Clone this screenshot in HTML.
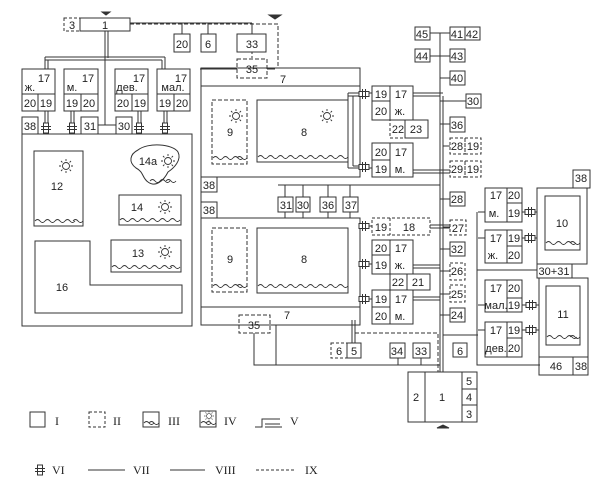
<!DOCTYPE html>
<html><head><meta charset="utf-8"><style>
html,body{margin:0;padding:0;background:#fff;}
svg{display:block;}
text{font-family:"Liberation Sans",sans-serif;font-size:11px;fill:#222;}
.s{font-family:"Liberation Serif",serif;font-size:12px;}
</style></head><body>
<svg width="605" height="498" viewBox="0 0 605 498" xmlns="http://www.w3.org/2000/svg">
<defs>
<g id="sun" stroke="#333" stroke-width="0.9" fill="none">
<circle r="3.5"/>
<path d="M0,-7V-5M0,5V7M-7,0H-5M5,0H7M-5,-5L-3.6,-3.6M5,5L3.6,3.6M-5,5L-3.6,3.6M5,-5L3.6,-3.6"/>
</g>
<path id="wv" d="M0,0q2.5,-3 5,0t5,0" fill="none" stroke="#333" stroke-width="0.9"/>
<g id="valve" stroke="#333" stroke-width="1" fill="none">
<rect x="-2.5" y="-5" width="5" height="10" fill="#fff"/><path d="M-5,-1.5H5M-5,1.5H5"/>
</g>
<g id="valveh" stroke="#333" stroke-width="1" fill="none">
<rect x="-5" y="-2.5" width="10" height="5" fill="#fff"/><path d="M-1.5,-5V5M1.5,-5V5"/>
</g>
</defs>
<g stroke="#333" stroke-width="1" fill="none">
<path d="M102,12h8l-4,3z" fill="#333"/>
<path d="M269,15h12l-6,4z" fill="#333"/>
<rect x="64" y="18" width="16" height="13" stroke-dasharray="3,2"/>
<rect x="80" y="18" width="50" height="13"/>
<path d="M130,24H278V68" stroke-dasharray="4,2"/>
<path d="M130,23H252M182,23V34M208,23V34M252,23V34" />
<rect x="174" y="34" width="16" height="18"/>
<rect x="201" y="34" width="15" height="18"/>
<rect x="237" y="34" width="29" height="18"/>
<path d="M252,52V59" stroke-dasharray="2,2"/>
<rect x="237" y="59" width="30" height="19" stroke-dasharray="4,2"/>
<path d="M267,69H275M200,69H237"/>
<path d="M105,31V125M108,31V58M45,57H165M45,60H162M45,57V69M48,60V69M165,57V69M162,60V69M98,125H116"/>
<rect x="22" y="69" width="33" height="25"/><rect x="22" y="94" width="16" height="17"/><rect x="38" y="94" width="17" height="17"/>
<rect x="64" y="69" width="34" height="25"/><rect x="64" y="94" width="17" height="17"/><rect x="81" y="94" width="17" height="17"/>
<rect x="115" y="69" width="33" height="25"/><rect x="115" y="94" width="17" height="17"/><rect x="132" y="94" width="16" height="17"/>
<rect x="157" y="69" width="33" height="25"/><rect x="157" y="94" width="17" height="17"/><rect x="174" y="94" width="16" height="17"/>
<path d="M45,111V134M48,111V134M71,111V134M74,111V134M138,111V134M141,111V134M164,111V134M167,111V134"/>
<rect x="22" y="117" width="16" height="17"/><rect x="81" y="117" width="17" height="17"/><rect x="116" y="117" width="16" height="17"/>
<rect x="22" y="134" width="170" height="192"/>
<rect x="34" y="151" width="49" height="75"/>
<path d="M138,150c10,-8 35,-6 40,2c4,8 -4,16 -10,20c-4,8 -12,16 -20,10c-6,-4 -4,-10 -12,-14c-8,-6 -6,-14 2,-18z"/>
<rect x="119" y="195" width="62" height="30"/>
<rect x="111" y="240" width="70" height="32"/>
<path d="M35,241H90V285H182V313H35Z"/>
<rect x="201" y="68" width="159" height="109"/>
<path d="M201,86H360"/>
<rect x="212" y="100" width="35" height="64" stroke-dasharray="4,2"/>
<rect x="257" y="100" width="91" height="62"/>
<path d="M348,93H372M348,96H369M348,93V168M353,96V166M348,168H372M353,166H369" />
<rect x="201" y="177" width="16" height="15"/>
<rect x="201" y="202" width="16" height="16"/>
<path d="M201,177V218M278,185H440M285,185V197M303,185V197M328,185V197M350,185V197"/>
<rect x="278" y="197" width="15" height="15"/><rect x="296" y="197" width="14" height="15"/><rect x="320" y="197" width="16" height="15"/><rect x="343" y="197" width="15" height="15"/>
<path d="M285,212V218M303,212V218M328,212V218M350,212V218"/>
<rect x="201" y="218" width="159" height="107"/>
<path d="M201,307H360"/>
<rect x="212" y="228" width="35" height="64" stroke-dasharray="4,2"/>
<rect x="257" y="228" width="91" height="65"/>
<path d="M360,226H372M360,264H372M360,299H372"/>
<rect x="372" y="86" width="18" height="15"/><rect x="390" y="86" width="23" height="34"/><rect x="372" y="101" width="18" height="19"/>
<rect x="390" y="120" width="15" height="18" stroke-dasharray="3,2"/><rect x="405" y="120" width="23" height="18"/>
<rect x="372" y="143" width="18" height="17"/><rect x="390" y="143" width="23" height="34"/><rect x="372" y="160" width="18" height="17"/>
<path d="M413,93H443M413,96H440M413,170H450M413,173H450"/>
<path d="M440,33V372M443,96V372M430,33H450M430,56H450M440,78H450M440,101H466M440,124H450M443,146H450M440,199H450M443,227H450M440,249H450M440,271H450M440,294H450M440,315H450"/>
<rect x="415" y="27" width="15" height="13"/><rect x="450" y="27" width="15" height="13"/><rect x="465" y="27" width="15" height="13"/>
<rect x="415" y="49" width="15" height="13"/><rect x="450" y="49" width="15" height="13"/>
<rect x="450" y="71" width="15" height="14"/><rect x="466" y="94" width="15" height="14"/><rect x="450" y="117" width="15" height="15"/>
<g stroke-dasharray="3,2"><rect x="450" y="138" width="15" height="16"/><rect x="465" y="138" width="16" height="16"/><rect x="450" y="161" width="15" height="16"/><rect x="465" y="161" width="16" height="16"/></g>
<rect x="450" y="192" width="15" height="14"/>
<rect x="450" y="220" width="16" height="15" stroke-dasharray="3,2"/>
<rect x="450" y="242" width="15" height="14"/>
<rect x="450" y="263" width="15" height="17" stroke-dasharray="3,2"/>
<rect x="450" y="285" width="15" height="17" stroke-dasharray="3,2"/>
<rect x="450" y="308" width="15" height="14"/>
<rect x="372" y="218" width="58" height="17" stroke-dasharray="3,2"/><path d="M390,218V235" stroke-dasharray="3,2"/>
<path d="M430,225H450M430,228H450"/>
<rect x="372" y="240" width="18" height="15"/><rect x="390" y="240" width="23" height="34"/><rect x="372" y="255" width="18" height="19"/>
<rect x="390" y="274" width="17" height="16"/><rect x="407" y="274" width="23" height="16"/>
<rect x="372" y="290" width="18" height="17"/><rect x="390" y="290" width="23" height="34"/><rect x="372" y="307" width="18" height="17"/>
<path d="M413,265H440M413,268H440M413,297H440M413,300H440"/>
<rect x="239" y="315" width="31" height="18" stroke-dasharray="4,2"/>
<path d="M201,325H239M270,325H360M254,333V365H440M276,325V365M352,320V343M355,320V343"/>
<path d="M355,333H438V372" stroke-dasharray="4,2"/>
<rect x="331" y="343" width="16" height="15" stroke-dasharray="3,2"/><rect x="347" y="343" width="14" height="15"/>
<rect x="390" y="343" width="15" height="15"/><rect x="413" y="343" width="17" height="15"/>
<path d="M398,358V365M421,358V365"/>
<rect x="453" y="343" width="14" height="14"/>
<rect x="408" y="372" width="54" height="50"/><path d="M425,372V422"/>
<rect x="462" y="372" width="15" height="17"/><rect x="462" y="389" width="15" height="16"/><rect x="462" y="405" width="15" height="17"/>
<path d="M437,428h12l-6,-3z" fill="#333"/>
<path d="M443,335H478M477,212V365H540M477,270H537M478,212H485M478,238H485M478,305H485M478,330H485"/>
<rect x="485" y="188" width="22" height="34"/><rect x="507" y="188" width="15" height="15"/><rect x="507" y="203" width="15" height="19"/>
<rect x="485" y="230" width="22" height="33"/><rect x="507" y="230" width="15" height="16"/><rect x="507" y="246" width="15" height="17"/>
<rect x="485" y="280" width="22" height="32"/><rect x="507" y="280" width="15" height="18"/><rect x="507" y="298" width="15" height="14"/>
<rect x="485" y="322" width="22" height="35"/><rect x="507" y="322" width="15" height="16"/><rect x="507" y="338" width="15" height="19"/>
<path d="M522,212H537M522,238H537M522,305H539M522,330H539"/>
<rect x="537" y="188" width="50" height="76"/><rect x="545" y="196" width="35" height="54"/>
<rect x="573" y="170" width="17" height="18"/>
<rect x="537" y="264" width="35" height="14"/>
<rect x="539" y="278" width="49" height="97"/><rect x="546" y="286" width="34" height="59"/>
<path d="M539,357H588M573,357V375"/>
<rect x="30" y="412" width="15" height="15"/>
<rect x="89" y="412" width="16" height="15" stroke-dasharray="3,2"/>
<rect x="143" y="412" width="16" height="15"/>
<rect x="200" y="411" width="16" height="16"/>
<path d="M255,427H262V419H280M265,427H282M265,424H280"/>
<path d="M88,470H125M170,470H205"/>
<path d="M256,470H295" stroke-dasharray="3,2"/>
</g>
<g>
<g transform="translate(35,221)"><use href="#wv"/><use href="#wv" x="10"/><use href="#wv" x="20"/><use href="#wv" x="30"/><use href="#wv" x="38"/></g>
<g transform="translate(120,220)"><use href="#wv"/><use href="#wv" x="10"/><use href="#wv" x="20"/><use href="#wv" x="30"/><use href="#wv" x="40"/><use href="#wv" x="50"/></g>
<g transform="translate(112,267)"><use href="#wv"/><use href="#wv" x="10"/><use href="#wv" x="20"/><use href="#wv" x="30"/><use href="#wv" x="40"/><use href="#wv" x="50"/><use href="#wv" x="58"/></g>
<g transform="translate(150,181)"><use href="#wv"/><use href="#wv" x="10"/><use href="#wv" x="16"/></g>
<g transform="translate(213,158)"><use href="#wv"/><use href="#wv" x="10"/><use href="#wv" x="20"/><use href="#wv" x="24"/></g>
<g transform="translate(258,157)"><use href="#wv"/><use href="#wv" x="10"/><use href="#wv" x="20"/><use href="#wv" x="30"/><use href="#wv" x="40"/><use href="#wv" x="50"/><use href="#wv" x="60"/><use href="#wv" x="70"/><use href="#wv" x="80"/></g>
<g transform="translate(213,286)"><use href="#wv"/><use href="#wv" x="10"/><use href="#wv" x="20"/><use href="#wv" x="24"/></g>
<g transform="translate(258,286)"><use href="#wv"/><use href="#wv" x="10"/><use href="#wv" x="20"/><use href="#wv" x="30"/><use href="#wv" x="40"/><use href="#wv" x="50"/><use href="#wv" x="60"/><use href="#wv" x="70"/><use href="#wv" x="80"/></g>
<g transform="translate(546,243)"><use href="#wv"/><use href="#wv" x="10"/><use href="#wv" x="20"/><use href="#wv" x="24"/></g>
<g transform="translate(547,337)"><use href="#wv"/><use href="#wv" x="10"/><use href="#wv" x="20"/><use href="#wv" x="23"/></g>
<g transform="translate(144,423)"><use href="#wv"/><use href="#wv" x="5"/></g>
<g transform="translate(201,423)"><use href="#wv"/><use href="#wv" x="5"/></g>
</g>
<use href="#sun" x="66" y="166"/><use href="#sun" x="168" y="161"/><use href="#sun" x="165" y="207"/><use href="#sun" x="165" y="252"/>
<use href="#sun" x="236" y="116"/><use href="#sun" x="327" y="116"/>
<g transform="translate(209,416) scale(0.7)"><use href="#sun"/></g>
<use href="#valve" x="46" y="128"/><use href="#valve" x="72" y="128"/><use href="#valve" x="139" y="128"/><use href="#valve" x="165" y="128"/>
<use href="#valveh" x="364" y="94"/><use href="#valveh" x="364" y="167"/><use href="#valveh" x="364" y="226"/><use href="#valveh" x="364" y="264"/><use href="#valveh" x="364" y="299"/>
<use href="#valveh" x="530" y="212"/><use href="#valveh" x="530" y="238"/><use href="#valveh" x="531" y="305"/><use href="#valveh" x="531" y="330"/>
<use href="#valve" x="40" y="470"/>
<g text-anchor="middle">
<text x="72" y="29">3</text><text x="105" y="29">1</text>
<text x="182" y="48">20</text><text x="208" y="48">6</text><text x="252" y="48">33</text><text x="252" y="73">35</text><text x="283" y="83">7</text>
<text x="44" y="82">17</text><text x="30" y="91">ж.</text><text x="30" y="107">20</text><text x="46" y="107">19</text>
<text x="88" y="82">17</text><text x="72" y="91">м.</text><text x="72" y="107">19</text><text x="89" y="107">20</text>
<text x="139" y="82">17</text><text x="127" y="91">дев.</text><text x="123" y="107">20</text><text x="140" y="107">19</text>
<text x="181" y="82">17</text><text x="173" y="91">мал.</text><text x="165" y="107">19</text><text x="182" y="107">20</text>
<text x="30" y="130">38</text><text x="90" y="130">31</text><text x="124" y="130">30</text>
<text x="57" y="190">12</text><text x="148" y="165">14a</text><text x="137" y="211">14</text><text x="138" y="257">13</text><text x="62" y="291">16</text>
<text x="230" y="136">9</text><text x="304" y="136">8</text><text x="230" y="263">9</text><text x="304" y="263">8</text>
<text x="209" y="189">38</text><text x="209" y="214">38</text>
<text x="286" y="209">31</text><text x="303" y="209">30</text><text x="328" y="209">36</text><text x="351" y="209">37</text>
<text x="381" y="98">19</text><text x="401" y="98">17</text><text x="381" y="115">20</text><text x="400" y="115">ж.</text>
<text x="398" y="133">22</text><text x="416" y="133">23</text>
<text x="381" y="156">20</text><text x="401" y="156">17</text><text x="381" y="173">19</text><text x="400" y="173">м.</text>
<text x="381" y="231">19</text><text x="409" y="231">18</text>
<text x="381" y="252">20</text><text x="401" y="252">17</text><text x="381" y="269">19</text><text x="400" y="269">ж.</text>
<text x="398" y="286">22</text><text x="418" y="286">21</text>
<text x="381" y="303">19</text><text x="401" y="303">17</text><text x="381" y="320">20</text><text x="400" y="320">м.</text>
<text x="287" y="319">7</text><text x="254" y="329">35</text>
<text x="339" y="355">6</text><text x="354" y="355">5</text><text x="397" y="355">34</text><text x="421" y="355">33</text><text x="460" y="355">6</text>
<text x="416" y="401">2</text><text x="442" y="401">1</text><text x="469" y="385">5</text><text x="469" y="401">4</text><text x="469" y="418">3</text>
<text x="422" y="38">45</text><text x="457" y="38">41</text><text x="472" y="38">42</text>
<text x="422" y="60">44</text><text x="457" y="60">43</text><text x="457" y="82">40</text><text x="473" y="105">30</text><text x="457" y="129">36</text>
<text x="457" y="150">28</text><text x="473" y="150">19</text><text x="457" y="173">29</text><text x="473" y="173">19</text>
<text x="457" y="203">28</text><text x="458" y="232">27</text><text x="457" y="253">32</text><text x="457" y="275">26</text><text x="457" y="298">25</text><text x="457" y="319">24</text>
<text x="496" y="199">17</text><text x="514" y="199">20</text><text x="494" y="217">м.</text><text x="514" y="217">19</text>
<text x="496" y="242">17</text><text x="514" y="242">19</text><text x="493" y="259">ж.</text><text x="514" y="259">20</text>
<text x="496" y="292">17</text><text x="514" y="292">20</text><text x="496" y="309">мал.</text><text x="514" y="309">19</text>
<text x="496" y="334">17</text><text x="514" y="334">19</text><text x="496" y="352">дев.</text><text x="514" y="352">20</text>
<text x="562" y="227">10</text><text x="581" y="182">38</text><text x="554" y="275">30+31</text>
<text x="563" y="318">11</text><text x="556" y="370">46</text><text x="581" y="370">38</text>
</g>
<text class="s" x="55" y="425">I</text><text class="s" x="113" y="425">II</text><text class="s" x="168" y="425">III</text>
<text class="s" x="224" y="425">IV</text><text class="s" x="290" y="425">V</text>
<text class="s" x="52" y="474">VI</text><text class="s" x="133" y="474">VII</text><text class="s" x="215" y="474">VIII</text><text class="s" x="305" y="474">IX</text>
</svg>
</body></html>
